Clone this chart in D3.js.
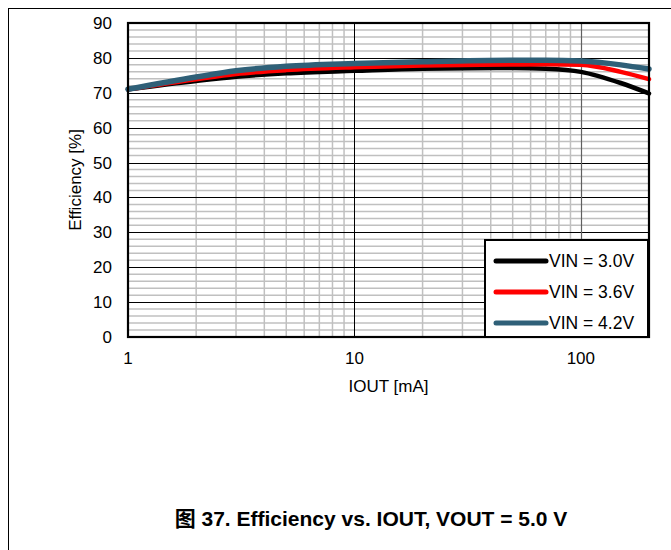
<!DOCTYPE html>
<html><head><meta charset="utf-8">
<script src="https://cdn.jsdelivr.net/npm/d3@7"></script>
<style>body{margin:0;background:#fff;}svg{display:block;font-family:"Liberation Sans",Arial,sans-serif;}</style>
</head><body>
<svg id="c" width="671" height="550"></svg>
<script>
const iout = [1, 2, 3, 5, 10, 20, 50, 70, 100, 150, 200];
const vin30 = [71, 73.4, 74.6, 75.6, 76.3, 76.9, 77.1, 76.9, 76.0, 72.8, 69.8];
const vin36 = [71, 73.9, 75.4, 76.5, 77.3, 77.8, 78.1, 78.2, 78.0, 76.0, 73.9];
const vin42 = [71, 74.5, 76.3, 77.6, 78.4, 78.9, 79.3, 79.3, 79.1, 78.0, 76.8];
const seriesNames = ["VIN = 3.0V", "VIN = 3.6V", "VIN = 4.2V"];
const seriesColors = ["#000000", "#FF0000", "#2F6078"];
const yTicks = [0, 10, 20, 30, 40, 50, 60, 70, 80, 90];
const xTickLabels = [1, 10, 100];

const svg = d3.select("#c");
const L = 128, R = 649, T = 23, B = 337;
const x = d3.scaleLog().domain([1, 200]).range([L, R]);
const y = d3.scaleLinear().domain([0, 90]).range([B, T]);

// outer frame
svg.append("line").attr("x1", 8).attr("x2", 671).attr("y1", 8.5).attr("y2", 8.5).attr("stroke", "#000").attr("stroke-width", 1);
svg.append("line").attr("x1", 8.5).attr("x2", 8.5).attr("y1", 8).attr("y2", 550).attr("stroke", "#000").attr("stroke-width", 1);

const g = svg.append("g");
// minor horizontal grid
const yMinor = d3.range(2, 90, 2).filter(v => v % 10 !== 0);
g.selectAll(".hm").data(yMinor).enter().append("line")
  .attr("x1", L).attr("x2", R).attr("y1", d => y(d)).attr("y2", d => y(d))
  .attr("stroke", "#C0C0C0").attr("stroke-width", 1.5);
// minor vertical grid
const xMinor = [];
[1, 10, 100].forEach(dec => { for (let k = 2; k <= 9; k++) { const v = dec * k; if (v < 200) xMinor.push(v); } });
g.selectAll(".vm").data(xMinor).enter().append("line")
  .attr("x1", d => x(d)).attr("x2", d => x(d)).attr("y1", T).attr("y2", B)
  .attr("stroke", "#C0C0C0").attr("stroke-width", 1.5);
// major horizontal
g.selectAll(".hM").data(yTicks.slice(1, -1)).enter().append("line")
  .attr("x1", L).attr("x2", R).attr("y1", d => Math.round(y(d)) + 0.5).attr("y2", d => Math.round(y(d)) + 0.5)
  .attr("stroke", "#000").attr("stroke-width", 1);
// major vertical
g.append("line").attr("x1", Math.round(x(10)) + 0.5).attr("x2", Math.round(x(10)) + 0.5).attr("y1", T).attr("y2", B).attr("stroke", "#000").attr("stroke-width", 1);
g.append("line").attr("x1", Math.round(x(100)) + 0.5).attr("x2", Math.round(x(100)) + 0.5).attr("y1", T).attr("y2", B).attr("stroke", "#606060").attr("stroke-width", 1.2);

// series
const all = [vin30, vin36, vin42];
const line = d3.line().x((d, i) => x(iout[i])).y(d => y(d)).curve(d3.curveMonotoneX);
all.forEach((s, i) => {
  svg.append("path").datum(s).attr("d", line).attr("fill", "none")
    .attr("stroke", seriesColors[i]).attr("stroke-width", i === 2 ? 5.5 : 4.5)
    .attr("stroke-linecap", "round");
});

// plot border
svg.append("rect").attr("x", L).attr("y", T).attr("width", R - L).attr("height", B - T)
  .attr("fill", "none").attr("stroke", "#000").attr("stroke-width", 2.2);

// axes labels
svg.append("g").selectAll("text").data(yTicks).enter().append("text")
  .attr("x", 112).attr("y", d => y(d)).attr("dy", "0.35em").attr("text-anchor", "end")
  .attr("font-size", 17).text(d => d);
svg.append("g").selectAll("text").data(xTickLabels).enter().append("text")
  .attr("x", d => x(d)).attr("y", 358).attr("dy", "0.35em").attr("text-anchor", "middle")
  .attr("font-size", 17).text(d => d);
svg.append("text").attr("x", (L + R) / 2).attr("y", 386).attr("dy", "0.35em").attr("text-anchor", "middle")
  .attr("font-size", 17).text("IOUT [mA]");
svg.append("text").attr("transform", "translate(75," + ((T + B) / 2) + ") rotate(-90)")
  .attr("dy", "0.35em").attr("text-anchor", "middle").attr("font-size", 17).text("Efficiency [%]");

// legend
const lg = svg.append("g");
lg.append("rect").attr("x", 485).attr("y", 240).attr("width", 163).attr("height", 97)
  .attr("fill", "#fff").attr("stroke", "#000").attr("stroke-width", 2);
const ly = [261, 292, 323];
seriesNames.forEach((n, i) => {
  lg.append("line").attr("x1", 496).attr("x2", 546).attr("y1", ly[i]).attr("y2", ly[i])
    .attr("stroke", seriesColors[i]).attr("stroke-width", 5).attr("stroke-linecap", "round");
  lg.append("text").attr("x", 549).attr("y", ly[i]).attr("dy", "0.35em").attr("font-size", 17.5).text(n);
});

// caption
svg.append("text").attr("x", 371).attr("y", 519).attr("dy", "0.35em").attr("text-anchor", "middle")
  .attr("font-size", 21).attr("font-weight", "bold")
  .style("font-family", "'Liberation Sans', Arial, 'Noto Sans CJK SC', sans-serif")
  .text("图 37. Efficiency vs. IOUT, VOUT = 5.0 V");
</script>
</body></html>
